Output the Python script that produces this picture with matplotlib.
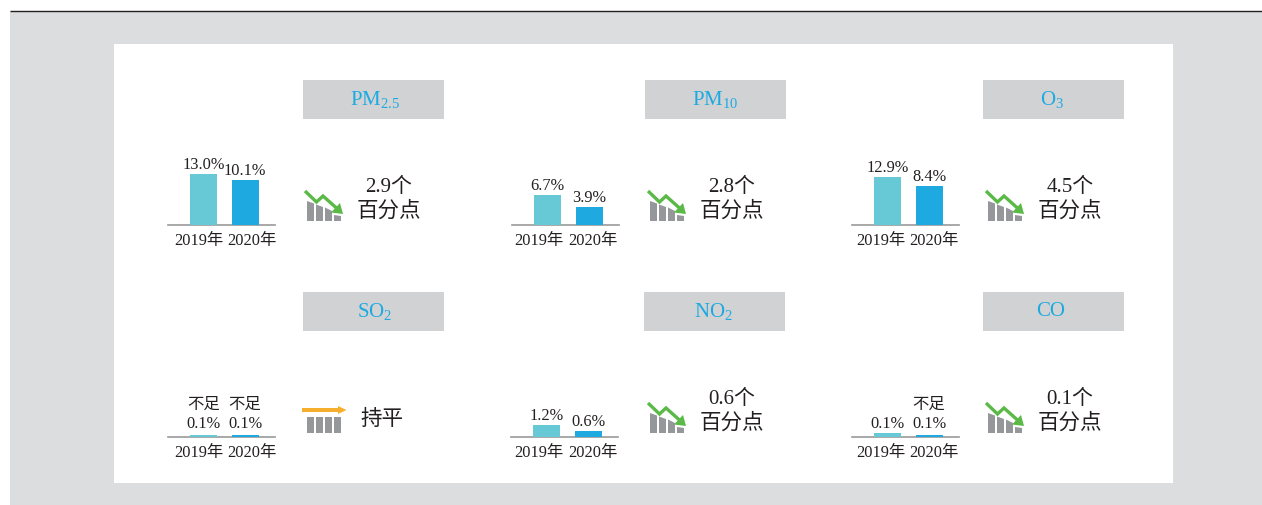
# -*- coding: utf-8 -*-

import matplotlib
matplotlib.use('Agg')
import matplotlib.pyplot as plt
from matplotlib.patches import Rectangle, Polygon

plt.rcParams['font.family'] = ['Liberation Serif', 'Noto Sans CJK SC', 'DejaVu Sans']
plt.rcParams['mathtext.default'] = 'regular'

W, H = 1262, 505

years = ['2019年', '2020年']
titles = ['PM$_{2.5}$', 'PM$_{10}$', 'O$_{3}$', 'SO$_{2}$', 'NO$_{2}$', 'CO']
value_labels = [['13.0%', '10.1%'], ['6.7%', '3.9%'], ['12.9%', '8.4%'],
                ['不足\n0.1%', '不足\n0.1%'], ['1.2%', '0.6%'], ['0.1%', '不足\n0.1%']]
# bar heights as they are drawn in the picture (not to one scale across panels)
bar_heights = [[51, 45], [30, 18], [48, 39], [2.5, 2.5], [12, 6], [4, 2.5]]
changes = ['2.9个\n百分点', '2.8个\n百分点', '4.5个\n百分点', '持平', '0.6个\n百分点', '0.1个\n百分点']

# layout, pixels
axis_left = [168, 512, 852, 168, 511, 852]
axis_base = [225, 225, 225, 437, 437, 437]
tick_px = [[31, 84], [27, 81], [29, 82], [31, 84], [28, 82], [29, 82]]
box_left = [303, 645, 983, 303, 644, 983]
box_top = [80, 80, 80, 292, 292, 292]
title_dx = [2, 0, -1, 1, -1, -3]
icon_dx = [0, 343, 681, 0, 343, 681]
text_x = [389, 732, 1070, 382, 732, 1070]

c_bg = '#dcddde'
c_box = '#d1d2d4'
c_blue = '#1eaae0'
c_teal = '#68c9d6'
c_gray = '#96979b'
c_green = '#5ab947'
c_orange = '#f5ae2e'
c_text = '#231f20'

fig = plt.figure(figsize=(W / 100, H / 100), dpi=100)
fig.patch.set_facecolor('white')

# page layer in pixel coordinates
page = fig.add_axes([0, 0, 1, 1], zorder=0)
page.set_xlim(0, W)
page.set_ylim(H, 0)
page.axis('off')
page.add_patch(Rectangle((10, 11), W - 10, H - 11, fc=c_bg, ec='none'))
page.plot([10, W], [11, 11], color='#231f20', lw=1.0, solid_capstyle='butt')
page.add_patch(Rectangle((114, 44), 1059, 439, fc='white', ec='none'))


def down_icon(dx, dy):
    bars = [(307, 201, 203.5), (316, 204.5, 207), (325, 207.5, 211), (334, 215, 216)]
    for x, t0, t1 in bars:
        page.add_patch(Polygon([(x + dx, 221 + dy), (x + dx, t0 + dy), (x + 7 + dx, t1 + dy),
                                (x + 7 + dx, 221 + dy)], fc=c_gray, ec='none'))
    xs = [x + dx for x in (305, 316.5, 323, 337)]
    ys = [y + dy for y in (191, 202, 196, 208.5)]
    page.plot(xs, ys, color=c_green, lw=2.4, solid_capstyle='butt', solid_joinstyle='miter')
    page.add_patch(Polygon([(343 + dx, 214 + dy), (331 + dx, 212.5 + dy), (340 + dx, 203 + dy)],
                           fc=c_green, ec='none'))


def flat_icon(dy):
    for x in (307, 316, 325, 334):
        page.add_patch(Rectangle((x, 205 + dy), 7, 15.5, fc=c_gray, ec='none'))
    page.add_patch(Rectangle((302, 196 + dy), 37, 4, fc=c_orange, ec='none'))
    page.add_patch(Polygon([(346.5, 198 + dy), (338, 194 + dy), (338, 202 + dy)],
                           fc=c_orange, ec='none'))


for i in range(6):
    # header box
    page.add_patch(Rectangle((box_left[i], box_top[i]), 141, 39, fc=c_box, ec='none'))
    page.text(box_left[i] + 70.5 + title_dx[i], box_top[i] + 20, titles[i], color=c_blue, fontsize=15,
              ha='center', va='center')

    # trend icon + change text
    dy = axis_base[i] - 225
    if changes[i] == '持平':
        flat_icon(dy)
        page.text(text_x[i], 420, changes[i], color=c_text, fontsize=15.5, ha='center', va='center')
    else:
        down_icon(icon_dx[i], dy)
        first, second = changes[i].split('\n')
        page.text(text_x[i], 187 + dy, first, color=c_text, fontsize=15, ha='center', va='center')
        page.text(text_x[i], 212 + dy, second, color=c_text, fontsize=15.5, ha='center', va='center')

    # bar panel
    ax = fig.add_axes([axis_left[i] / W, (H - axis_base[i]) / H, 107 / W, 60 / H], zorder=1)
    ax.patch.set_alpha(0)
    ax.set_xlim(-0.855, 1.72)
    ax.set_ylim(0, 60)
    ax.bar([0, 1], bar_heights[i], width=0.65, color=[c_teal, c_blue], zorder=3)
    for x, h, lab in zip([0, 1], bar_heights[i], value_labels[i]):
        off = 2 if '\n' in lab else 0.8
        ax.annotate(lab, (x, h), xytext=(0, off), textcoords='offset points', ha='center', va='bottom',
                    fontsize=11.8, color=c_text, linespacing=1.25, annotation_clip=False)
    for s in ('top', 'left', 'right'):
        ax.spines[s].set_visible(False)
    ax.spines['bottom'].set_color('#999999')
    ax.spines['bottom'].set_linewidth(1.2)
    ax.set_yticks([])
    ax.set_xticks([(p - 35.5) / 41.5 for p in tick_px[i]])
    ax.set_xticklabels(years, fontsize=11.8, color=c_text)
    ax.tick_params(axis='x', length=0, pad=5.5)

fig.savefig('out.png', dpi=100)
